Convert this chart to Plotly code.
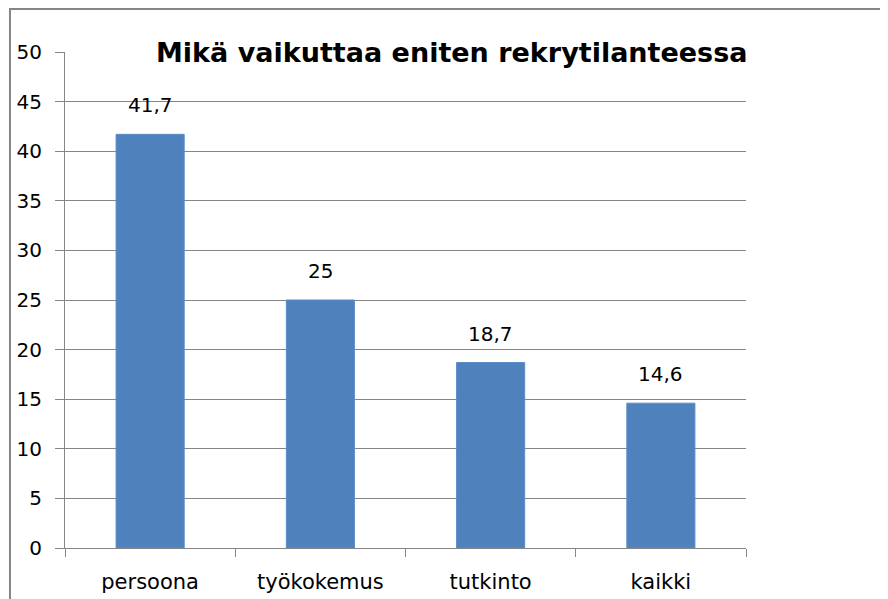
import plotly.graph_objects as go

categories = ["persoona", "työkokemus", "tutkinto", "kaikki"]
values = [41.7, 25, 18.7, 14.6]
title_text = "Mikä vaikuttaa eniten rekrytilanteessa"

FONT = "'DejaVu Sans', sans-serif"
GRID = "#868686"

fig = go.Figure()
fig.add_trace(go.Bar(
    x=categories, y=values,
    marker=dict(color="#4F81BD", line=dict(color="#5B8CC8", width=1)),
    hoverinfo="skip",
))

for c, v in zip(categories, values):
    fig.add_annotation(
        x=c, y=v, xref="x", yref="y",
        text=f"{v:g}".replace(".", ","),
        showarrow=False, yanchor="bottom", yshift=15,
        font=dict(family=FONT, size=20, color="#000000"),
    )

fig.add_annotation(
    x=0.5675, y=1.0, xref="paper", yref="paper",
    text="<b>" + title_text + "</b>", showarrow=False,
    xanchor="center", yanchor="middle",
    font=dict(family=FONT, size=27, color="#000000"),
)

# outer chart frame
fig.add_shape(type="rect", xref="paper", yref="paper",
              x0=-0.0808, x1=1.25, y0=-0.3, y1=1.0867,
              line=dict(color=GRID, width=2), layer="below")

fig.update_layout(
    width=888, height=599,
    margin=dict(l=57, r=150, t=44, b=59, autoexpand=False),
    paper_bgcolor="white", plot_bgcolor="white",
    bargap=0.6, showlegend=False,
    separators=",.",
    font=dict(family=FONT, size=20, color="#000000"),
    xaxis=dict(
        showline=True, linecolor=GRID, linewidth=1,
        ticks="outside", tickson="boundaries", ticklen=8, tickcolor=GRID,
        showgrid=False, tickfont=dict(size=21), ticklabelstandoff=15,
        automargin=False,
    ),
    yaxis=dict(
        range=[0, 50], dtick=5, tick0=0,
        showline=True, linecolor=GRID, linewidth=1,
        ticks="outside", ticklen=9, tickcolor=GRID,
        showgrid=True, gridcolor=GRID, gridwidth=1,
        zeroline=False, tickfont=dict(size=20), ticklabelstandoff=9,
        automargin=False,
    ),
)

fig.write_html("out.html")
